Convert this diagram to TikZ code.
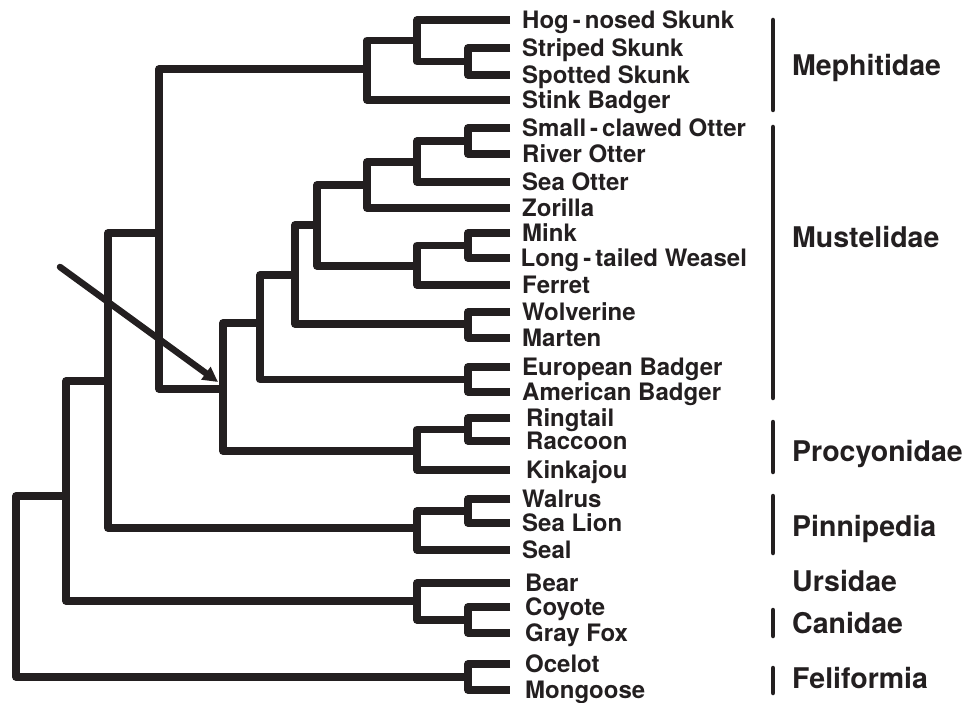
\documentclass[tikz,border=0pt]{standalone}
\usepackage{fontspec}
\setmainfont{TeX Gyre Heros}
\usetikzlibrary{arrows.meta}
\definecolor{ink}{HTML}{231F20}
\begin{document}
\begin{tikzpicture}[x=1pt,y=-1pt,
  br/.style={draw=ink, line width=7.5pt, line join=round},
  leaf/.style={anchor=base west, inner sep=0pt, text=ink, font=\bfseries\fontsize{24}{24}\selectfont},
  grp/.style={anchor=base west, inner sep=0pt, text=ink, font=\bfseries\fontsize{28.5}{28.5}\selectfont},
  bar/.style={draw=ink, line width=4.5pt, line cap=round},
  pointer/.style={draw=ink, line width=6.5pt, line cap=round, -{Triangle[length=15pt,width=15pt]}}]
\useasboundingbox (0,0) rectangle (980,703);
% leaves
\foreach \n/\y/\dx/\t in {
  1/20/0/{Hog\,-\,nosed Skunk},
  2/48/0/{Striped Skunk},
  3/75/0/{Spotted Skunk},
  4/100/0/{Stink Badger},
  5/128/0/{Small\,-\,clawed Otter},
  6/154/0/{River Otter},
  7/182/0/{Sea Otter},
  8/208/0/{Zorilla},
  9/233/0/{Mink},
  10/258/-1.5/{Long\,-\,tailed Weasel},
  11/285/0/{Ferret},
  12/312/0/{Wolverine},
  13/338/0/{Marten},
  14/367/0/{European Badger},
  15/392/0/{American Badger},
  16/418/4/{Ringtail},
  17/441/4/{Raccoon},
  18/470/4/{Kinkajou},
  19/499/0/{Walrus},
  20/523/0/{Sea Lion},
  21/550/0/{Seal},
  22/583/3/{Bear},
  23/607/3/{Coyote},
  24/633/3/{Gray Fox},
  25/664/3/{Ocelot},
  26/690/3/{Mongoose}} {
  \coordinate (t\n) at (510,\y);
  \node[leaf] (l\n) at (522+\dx,\y+8.6) {\t};
}
% internal nodes
\coordinate (a) at (468,61.5);
\coordinate (b) at (417,40.5);
\coordinate (c) at (367,69);
\coordinate (d) at (468,141);
\coordinate (e) at (417,162);
\coordinate (f) at (367,185);
\coordinate (g) at (468,245.5);
\coordinate (h) at (417,266);
\coordinate (i) at (317,225);
\coordinate (j) at (468,324);
\coordinate (k) at (295,275);
\coordinate (l) at (468,379.5);
\coordinate (m) at (260,323);
\coordinate (n) at (468,429.5);
\coordinate (o) at (417,451);
\coordinate (p) at (223,389);
\coordinate (q) at (159,233);
\coordinate (r) at (468,511);
\coordinate (s) at (417,528);
\coordinate (t) at (108,381);
\coordinate (u) at (468,620);
\coordinate (v) at (417,601);
\coordinate (w) at (66,496);
\coordinate (xx) at (468,677);
\coordinate (root) at (16,590);
% branches
\draw[br] (t2) -| (a) |- (t3);
\draw[br] (t1) -| (b) |- (a);
\draw[br] (b) -| (c) |- (t4);
\draw[br] (t5) -| (d) |- (t6);
\draw[br] (d) -| (e) |- (t7);
\draw[br] (e) -| (f) |- (t8);
\draw[br] (t9) -| (g) |- (t10);
\draw[br] (g) -| (h) |- (t11);
\draw[br] (f) -| (i) |- (h);
\draw[br] (t12) -| (j) |- (t13);
\draw[br] (i) -| (k) |- (j);
\draw[br] (t14) -| (l) |- (t15);
\draw[br] (k) -| (m) |- (l);
\draw[br] (t16) -| (n) |- (t17);
\draw[br] (n) -| (o) |- (t18);
\draw[br] (m) -| (p) |- (o);
\draw[br] (c) -| (q) |- (p);
\draw[br] (t19) -| (r) |- (t20);
\draw[br] (r) -| (s) |- (t21);
\draw[br] (q) -| (t) |- (s);
\draw[br] (t23) -| (u) |- (t24);
\draw[br] (t22) -| (v) |- (u);
\draw[br] (t) -| (w) |- (v);
\draw[br] (t25) -| (xx) |- (t26);
\draw[br] (w) -| (root) |- (xx);
% arrow
\coordinate (as) at (60,267);
\coordinate (ae) at (218,382);
\draw[pointer] (as) -- (ae);
% group bars
\draw[bar] (773,20) -- (773,110);
\draw[bar] (773,127) -- (773,398);
\draw[bar] (773,422) -- (773,472);
\draw[bar] (773,496) -- (773,553);
\draw[bar] (773,610) -- (773,636);
\draw[bar] (773,668) -- (773,693);
% group labels
\node[grp] (g1) at (792,65.5+10.2) {Mephitidae};
\node[grp] (g2) at (792,237+10.2) {Mustelidae};
\node[grp] (g3) at (792,451.5+10.2) {Procyonidae};
\node[grp] (g4) at (792,526+10.2) {Pinnipedia};
\node[grp] (g5) at (792,581.5+10.2) {Ursidae};
\node[grp] (g6) at (792,623+10.2) {Canidae};
\node[grp] (g7) at (792,678.5+10.2) {Feliformia};
\end{tikzpicture}
\end{document}
